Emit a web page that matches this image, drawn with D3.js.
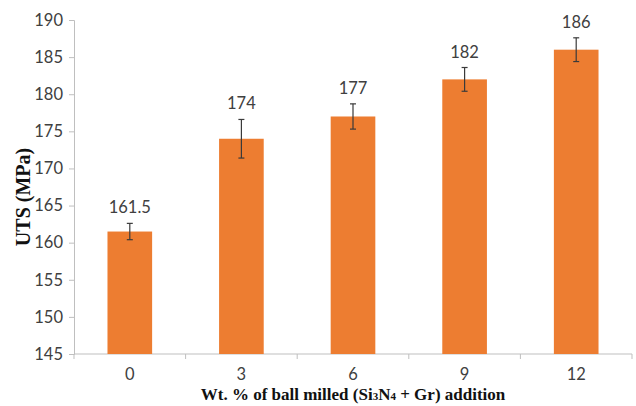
<!DOCTYPE html>
<html>
<head>
<meta charset="utf-8">
<script src="https://cdn.jsdelivr.net/npm/d3@7"></script>
<style>
  body { margin: 0; background: #fff; }
</style>
</head>
<body>
<div id="chart"></div>
<script>
// chart data
const categories = ['0', '3', '6', '9', '12'];
const utsValues = [161.5, 174, 177, 182, 186];
const errorValues = [1.1, 2.6, 1.7, 1.6, 1.6];
const valueLabels = ['161.5', '174', '177', '182', '186'];
const yTicks = [145, 150, 155, 160, 165, 170, 175, 180, 185, 190];

const margin = { top: 20, right: 4, bottom: 52, left: 74 };
const width = 636 - margin.left - margin.right;
const height = 406 - margin.top - margin.bottom;

const svg = d3.select('#chart').append('svg')
    .attr('width', 636)
    .attr('height', 406)
    .append('g')
    .attr('transform', `translate(${margin.left},${margin.top})`);

const x = d3.scaleBand()
    .domain(categories)
    .range([0, width])
    .paddingInner(0.6)
    .paddingOuter(0.3);

const y = d3.scaleLinear()
    .domain([145, 190])
    .range([height, 0]);

const axisColor = '#bfbfbf';
const labelFont = 'Lato, "Open Sans", sans-serif';

// y axis
const yAxis = svg.append('g')
    .call(d3.axisLeft(y).tickValues(yTicks).tickSize(5).tickPadding(6));
yAxis.select('.domain').attr('stroke', axisColor);
yAxis.selectAll('.tick line').attr('stroke', axisColor);
yAxis.selectAll('.tick text')
    .attr('fill', '#404040')
    .style('font-family', labelFont)
    .style('font-size', '16.5px');

// x axis line with ticks at category boundaries
const step = x.step();
svg.append('line')
    .attr('x1', 0).attr('x2', width)
    .attr('y1', height).attr('y2', height)
    .attr('stroke', axisColor);
svg.selectAll('.xtick')
    .data(d3.range(categories.length + 1))
    .enter().append('line')
    .attr('class', 'xtick')
    .attr('x1', i => i * step).attr('x2', i => i * step)
    .attr('y1', height).attr('y2', height + 5)
    .attr('stroke', axisColor);
svg.selectAll('.xlabel')
    .data(categories)
    .enter().append('text')
    .attr('class', 'xlabel')
    .attr('x', d => x(d) + x.bandwidth() / 2)
    .attr('y', height + 26)
    .attr('text-anchor', 'middle')
    .attr('fill', '#404040')
    .style('font-family', labelFont)
    .style('font-size', '16.5px')
    .text(d => d);

// bars
svg.selectAll('.bar')
    .data(utsValues)
    .enter().append('rect')
    .attr('class', 'bar')
    .attr('x', (d, i) => x(categories[i]))
    .attr('y', d => y(d))
    .attr('width', x.bandwidth())
    .attr('height', d => height - y(d))
    .attr('fill', '#ed7d31');

// error bars
const err = svg.selectAll('.err')
    .data(utsValues)
    .enter().append('g')
    .attr('class', 'err')
    .attr('transform', (d, i) => `translate(${x(categories[i]) + x.bandwidth() / 2},0)`)
    .attr('stroke', '#3a3a3a')
    .attr('stroke-width', 1.2);
err.append('line')
    .attr('y1', (d, i) => y(d + errorValues[i]))
    .attr('y2', (d, i) => y(d - errorValues[i]));
err.append('line')
    .attr('x1', -3).attr('x2', 3)
    .attr('y1', (d, i) => y(d + errorValues[i]))
    .attr('y2', (d, i) => y(d + errorValues[i]));
err.append('line')
    .attr('x1', -3).attr('x2', 3)
    .attr('y1', (d, i) => y(d - errorValues[i]))
    .attr('y2', (d, i) => y(d - errorValues[i]));

// value labels
svg.selectAll('.vlabel')
    .data(utsValues)
    .enter().append('text')
    .attr('class', 'vlabel')
    .attr('x', (d, i) => x(categories[i]) + x.bandwidth() / 2)
    .attr('y', (d, i) => y(d + errorValues[i]) - 10)
    .attr('text-anchor', 'middle')
    .attr('fill', '#404040')
    .style('font-family', labelFont)
    .style('font-size', '16.5px')
    .text((d, i) => valueLabels[i]);

// axis titles
const title = svg.append('text')
    .attr('x', width / 2)
    .attr('y', height + 46)
    .attr('text-anchor', 'middle')
    .style('font-family', '"Liberation Serif", serif')
    .style('font-weight', 'bold')
    .style('font-size', '17px')
    .attr('fill', '#111');
title.append('tspan').text('Wt. % of ball milled (Si');
title.append('tspan').attr('font-size', '11px').text('3');
title.append('tspan').text('N');
title.append('tspan').attr('font-size', '11px').text('4');
title.append('tspan').text(' + Gr) addition');

svg.append('text')
    .attr('transform', `translate(${-44},${height / 2 + 10}) rotate(-90)`)
    .attr('text-anchor', 'middle')
    .style('font-family', '"Liberation Serif", serif')
    .style('font-weight', 'bold')
    .style('font-size', '20px')
    .attr('fill', '#111')
    .text('UTS (MPa)');
</script>
</body>
</html>
